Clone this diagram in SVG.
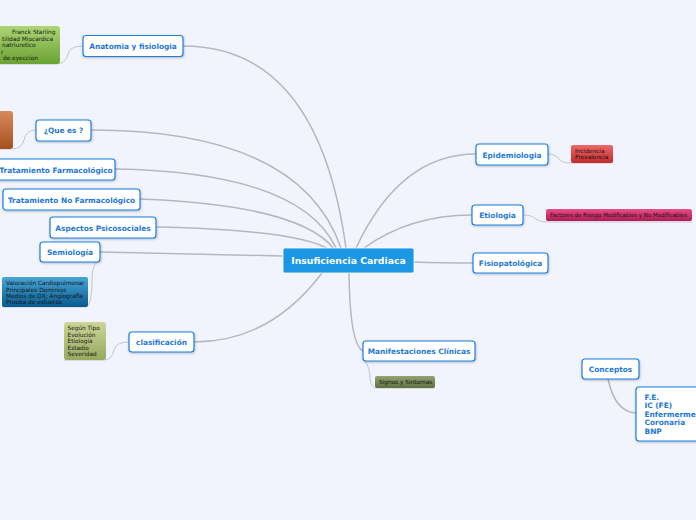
<svg xmlns="http://www.w3.org/2000/svg" width="696" height="520" viewBox="0 0 696 520">
<style>
.bg{fill:#f1f4fc}
.node{fill:#ffffff;stroke:#1b7fdf;stroke-width:1.2;filter:url(#sh)}
.lbl{font-family:"DejaVu Sans",Verdana,sans-serif;font-weight:bold;font-size:7.4px;fill:#1f78d6;text-anchor:middle}
.sub{font-family:"DejaVu Sans",Verdana,sans-serif;font-size:5.8px;fill:#151515}
.main{stroke:#b4b6c0;stroke-width:1.5;fill:none}
.thin{stroke:#c4c6ce;stroke-width:1;fill:none}
</style>
<defs>
<filter id="sh" x="-20%" y="-30%" width="140%" height="170%"><feDropShadow dx="0.5" dy="1" stdDeviation="0.8" flood-color="#000" flood-opacity="0.25"/></filter>
<linearGradient id="gGreen" x1="0" y1="0" x2="0" y2="1"><stop offset="0" stop-color="#aed577"/><stop offset="1" stop-color="#6aa232"/></linearGradient>
<linearGradient id="gOrange" x1="0" y1="0" x2="0" y2="1"><stop offset="0" stop-color="#d88a5a"/><stop offset="1" stop-color="#a5501f"/></linearGradient>
<linearGradient id="gBlue" x1="0" y1="0" x2="0" y2="1"><stop offset="0" stop-color="#4aa6d8"/><stop offset="1" stop-color="#08598e"/></linearGradient>
<linearGradient id="gOlive" x1="0" y1="0" x2="0" y2="1"><stop offset="0" stop-color="#cdd597"/><stop offset="1" stop-color="#98a85e"/></linearGradient>
<linearGradient id="gRed" x1="0" y1="0" x2="0" y2="1"><stop offset="0" stop-color="#ec6a6a"/><stop offset="1" stop-color="#c42a2a"/></linearGradient>
<linearGradient id="gPink" x1="0" y1="0" x2="0" y2="1"><stop offset="0" stop-color="#e8508a"/><stop offset="1" stop-color="#b21852"/></linearGradient>
<linearGradient id="gDark" x1="0" y1="0" x2="0" y2="1"><stop offset="0" stop-color="#94a472"/><stop offset="1" stop-color="#5e7040"/></linearGradient>
</defs>
<rect class="bg" x="0" y="0" width="696" height="520"/>

<g id="connectors">
<path class="main" d="M183 46 Q318 46 346 248"/>
<path class="main" d="M91 130 Q300 130 341 248"/>
<path class="main" d="M115 169 Q300 172 336 248"/>
<path class="main" d="M140 199 Q300 205 334 249"/>
<path class="main" d="M156 227 Q300 230 330 250"/>
<path class="main" d="M100 252 Q200 254 283 256"/>
<path class="main" d="M194 342 Q270 342 322 273"/>
<path class="main" d="M476 154 Q400 154 356 248"/>
<path class="main" d="M472 215 Q410 215 364 248"/>
<path class="main" d="M473 263 Q440 263 414 262"/>
<path class="main" d="M349 273 Q350 345 363 351"/>
<path class="thin" d="M83 46 Q70 46 68 54 Q66 64 56 64 L0 64"/>
<path class="thin" d="M36 130 Q26 130 24 140 Q22 149 12 149 L0 149"/>
<path class="thin" d="M97 262 Q92 266 92 280 Q92 306 86 307 L2 307"/>
<path class="thin" d="M129 342 Q116 342 114 350 Q112 360 104 360 L64 360"/>
<path class="thin" d="M548 154 Q556 154 560 160 Q563 163 571 163 L613 163"/>
<path class="thin" d="M523 215 Q532 215 536 219 Q540 222 546 222 L692 222"/>
<path class="thin" d="M365 361 Q370 368 370 378 Q371 388 376 388 L435 388"/>
<path class="main" d="M608 379 Q615 412 636 413"/>
</g>

<g id="n-center">
<rect x="283" y="248" width="131" height="25" rx="2" fill="#1b97e6" stroke="#ffffff" stroke-width="0.8"/>
<text x="348.5" y="264" font-family="DejaVu Sans,Verdana,sans-serif" font-weight="bold" font-size="9.3" fill="#ffffff" text-anchor="middle">Insuficiencia Cardiaca</text>
</g>

<g id="n-anatomia">
<rect class="node" x="83" y="35.5" width="100" height="21" rx="3"/>
<text class="lbl" x="133" y="48.5">Anatomia y fisiologia</text>
</g>
<g id="n-anatomia-sub">
<rect x="-5" y="26" width="65" height="38" rx="3" fill="url(#gGreen)"/>
<text class="sub" font-size="5.6"><tspan x="12" y="34">Franck Starling</tspan><tspan x="2" y="40.5">tilidad Miocardica</tspan><tspan x="2" y="47">natriuretico</tspan><tspan x="1" y="53.5">r</tspan><tspan x="3" y="60">de eyeccion</tspan></text>
</g>

<g id="n-quees">
<rect class="node" x="36" y="120" width="55" height="21" rx="3"/>
<text class="lbl" x="63.5" y="133">¿Que es ?</text>
</g>
<g id="n-quees-sub">
<rect x="-5" y="111" width="18" height="38" rx="3" fill="url(#gOrange)"/>
</g>

<g id="n-tratfarm">
<rect class="node" x="-3" y="159" width="118" height="21" rx="3"/>
<text class="lbl" x="56" y="172.5">Tratamiento Farmacológico</text>
</g>

<g id="n-tratnofarm">
<rect class="node" x="3" y="189" width="137" height="21" rx="3"/>
<text class="lbl" x="71.5" y="202.5">Tratamiento No Farmacológico</text>
</g>

<g id="n-aspectos">
<rect class="node" x="50" y="217" width="106" height="21" rx="3"/>
<text class="lbl" x="103" y="230.5">Aspectos Psicosociales</text>
</g>

<g id="n-semiologia">
<rect class="node" x="40" y="242" width="60" height="20" rx="3"/>
<text class="lbl" x="70" y="255">Semiología</text>
</g>
<g id="n-semiologia-sub">
<rect x="2" y="277" width="86" height="30" rx="2" fill="url(#gBlue)"/>
<text class="sub"><tspan x="6" y="285">Valoración Cardiopulmonar</tspan><tspan x="6" y="291.5">Principales Dominios</tspan><tspan x="6" y="298">Medios de DX; Angiografia</tspan><tspan x="6" y="304">Prueba de esfuerzo</tspan></text>
</g>

<g id="n-clasificacion">
<rect class="node" x="129" y="332" width="65" height="20" rx="3"/>
<text class="lbl" x="161.5" y="345">clasificación</text>
</g>
<g id="n-clasificacion-sub">
<rect x="64" y="322" width="42" height="38" rx="3" fill="url(#gOlive)"/>
<text class="sub"><tspan x="67.5" y="330">Según Tipo</tspan><tspan x="67.5" y="336.5">Evolución</tspan><tspan x="67.5" y="343">Etiologia</tspan><tspan x="67.5" y="349.5">Estadio</tspan><tspan x="67.5" y="356">Severidad</tspan></text>
</g>

<g id="n-epidemiologia">
<rect class="node" x="476" y="144" width="72" height="21" rx="3"/>
<text class="lbl" x="512" y="157.5">Epidemiologia</text>
</g>
<g id="n-epidemiologia-sub">
<rect x="571" y="145" width="42" height="18" rx="2" fill="url(#gRed)"/>
<text class="sub"><tspan x="575" y="152.5">Incidencia</tspan><tspan x="575" y="159">Prevalencia</tspan></text>
</g>

<g id="n-etiologia">
<rect class="node" x="472" y="205" width="51" height="20" rx="3"/>
<text class="lbl" x="497.5" y="218">Etiologia</text>
</g>
<g id="n-etiologia-sub">
<rect x="546" y="209" width="146" height="12" rx="2" fill="url(#gPink)"/>
<text class="sub" x="550" y="217" font-size="5.2" textLength="137" lengthAdjust="spacingAndGlyphs">Factores de Riesgo Modificables y No Modificables</text>
</g>

<g id="n-fisiopatologica">
<rect class="node" x="473" y="253" width="75" height="20" rx="3"/>
<text class="lbl" x="510.5" y="266">Fisiopatológica</text>
</g>

<g id="n-manifestaciones">
<rect class="node" x="363" y="341" width="112" height="20" rx="3"/>
<text class="lbl" x="419" y="354">Manifestaciones Clínicas</text>
</g>
<g id="n-manifestaciones-sub">
<rect x="375" y="376" width="60" height="12" rx="2" fill="url(#gDark)"/>
<text class="sub" x="379" y="384">Signos y Sintomas</text>
</g>

<g id="n-conceptos">
<rect class="node" x="582" y="359" width="57" height="20" rx="3"/>
<text class="lbl" x="610.5" y="372">Conceptos</text>
</g>
<g id="n-conceptos-sub">
<rect class="node" x="636" y="387" width="70" height="54" rx="3"/>
<text class="lbl" style="text-anchor:start"><tspan x="644.5" y="399.5">F.E.</tspan><tspan x="644.5" y="408">IC (FE)</tspan><tspan x="644.5" y="416.5">Enfermermedad</tspan><tspan x="644.5" y="425">Coronaria</tspan><tspan x="644.5" y="433.5">BNP</tspan></text>
</g>
</svg>
